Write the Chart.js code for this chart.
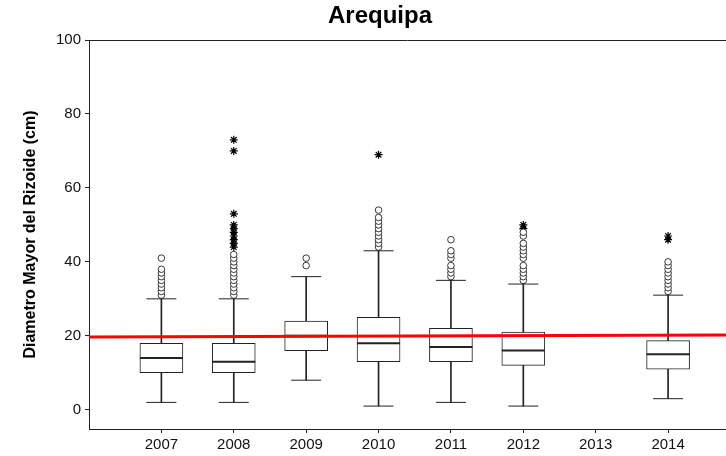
<!DOCTYPE html>
<html lang="es">
  <head>
    <meta charset="UTF-8" />
    <title>Arequipa</title>
    <script src="https://cdn.jsdelivr.net/npm/chart.js"></script>
    <style>
      body { margin: 0; background: #ffffff; }
      .chart-box { width: 726px; height: 456px; }
    </style>
  </head>
  <body>
    <div class="chart-box"><canvas id="chart"></canvas></div>

    <script>
      // one entry per year, 2013 has no samples
      const years = [2007, 2008, 2009, 2010, 2011, 2012, 2013, 2014];
      const whiskerLow = [2, 2, 8, 1, 2, 1, null, 3];
      const q1 = [10, 10, 16, 13, 13, 12, null, 11];
      const median = [14, 13, 20, 18, 17, 16, null, 15];
      const q3 = [18, 18, 24, 25, 22, 21, null, 18.7];
      const whiskerHigh = [30, 30, 36, 43, 35, 34, null, 31];

      const outlierCircles = [
        [31, 32, 33, 34, 35, 36, 37, 38, 41],
        [31, 32, 33, 34, 35, 36, 37, 38, 39, 40, 41, 42],
        [39, 41],
        [44, 45, 46, 47, 48, 49, 50, 51, 52, 54],
        [36, 37, 38, 39, 41, 42, 43, 46],
        [35, 36, 37, 38, 39, 41, 42, 43, 44, 45, 47, 48],
        [],
        [32, 33, 34, 35, 36, 37, 38, 39, 40]
      ];
      const outlierStars = [
        [],
        [44, 45, 46, 47, 48, 49, 50, 53, 70, 73],
        [],
        [69],
        [],
        [49, 50],
        [],
        [46, 47]
      ];

      const yTicks = [0, 20, 40, 60, 80, 100];
      const refLineX = [2006, 2014.8];
      const refLineY = [19.7, 20.2];

      const ink = "#222222";

      function ranges(lo, hi) {
        const out = [];
        years.forEach((yr, i) => {
          if (lo[i] !== null) out.push({ x: yr, y: [lo[i], hi[i]] });
        });
        return out;
      }

      function points(...lists) {
        const out = [];
        lists.forEach((list) => {
          years.forEach((yr, i) => {
            if (list[i] !== null) out.push({ x: yr, y: list[i] });
          });
        });
        return out;
      }

      function outlierPoints(lists) {
        const out = [];
        lists.forEach((vals, i) => {
          vals.forEach((v) => out.push({ x: years[i], y: v }));
        });
        return out;
      }

      // top border of the plot area
      const framePlugin = {
        id: "frame",
        afterDraw(chart) {
          const { ctx, chartArea } = chart;
          ctx.save();
          ctx.strokeStyle = ink;
          ctx.lineWidth = 1;
          ctx.beginPath();
          ctx.moveTo(chartArea.left, chartArea.top + 0.5);
          ctx.lineTo(chartArea.right, chartArea.top + 0.5);
          ctx.stroke();
          ctx.restore();
        },
      };

      Chart.defaults.font.family = "'Liberation Sans', Arial, sans-serif";
      Chart.defaults.color = "#111111";

      new Chart(document.getElementById("chart"), {
        type: "bar",
        data: {
          datasets: [
            {
              type: "line",
              data: refLineX.map((x, i) => ({ x: x, y: refLineY[i] })),
              borderColor: "#ff0000",
              borderWidth: 3,
              pointRadius: 0,
              order: 0,
            },
            {
              type: "scatter",
              data: points(median),
              pointStyle: "line",
              radius: 21.5,
              borderColor: ink,
              borderWidth: 2,
              order: 1,
            },
            {
              type: "scatter",
              data: points(whiskerLow, whiskerHigh),
              pointStyle: "line",
              radius: 15,
              borderColor: ink,
              borderWidth: 1,
              order: 1,
            },
            {
              type: "scatter",
              data: outlierPoints(outlierCircles),
              pointStyle: "circle",
              radius: 3.3,
              backgroundColor: "#ffffff",
              borderColor: ink,
              borderWidth: 0.9,
              order: 1,
            },
            {
              type: "scatter",
              data: outlierPoints(outlierStars),
              pointStyle: "star",
              radius: 4,
              borderColor: "#000000",
              borderWidth: 1.2,
              order: 1,
            },
            {
              data: ranges(q1, q3),
              barThickness: 43,
              backgroundColor: "#ffffff",
              borderColor: ink,
              borderWidth: 1,
              borderSkipped: false,
              grouped: false,
              order: 2,
            },
            {
              data: ranges(whiskerLow, whiskerHigh),
              barThickness: 1,
              backgroundColor: ink,
              borderWidth: 0,
              grouped: false,
              order: 3,
            },
          ],
        },
        options: {
          responsive: true,
          maintainAspectRatio: false,
          animation: false,
          layout: {
            autoPadding: false,
            padding: { left: 34, right: 0, top: 0, bottom: 0 },
          },
          plugins: {
            legend: { display: false },
            tooltip: { enabled: false },
            title: {
              display: true,
              text: "Arequipa",
              color: "#000000",
              font: { size: 24, weight: "bold" },
              padding: { top: 2, bottom: 9.2 },
            },
          },
          scales: {
            x: {
              type: "linear",
              min: 2006,
              max: 2014.8,
              offset: false,
              afterBuildTicks: (s) => {
                s.ticks = years.map((v) => ({ value: v }));
              },
              afterFit: (s) => {
                s.height = 27;
                s.paddingLeft = 0;
                s.paddingRight = 0;
              },
              ticks: {
                padding: 3,
                font: { size: 15 },
                callback: (v) => String(v),
              },
              grid: {
                offset: false,
                drawOnChartArea: false,
                tickLength: 4,
                color: ink,
              },
              border: { color: ink, width: 1 },
            },
            y: {
              min: -5.2,
              max: 100,
              afterBuildTicks: (s) => {
                s.ticks = yTicks.map((v) => ({ value: v }));
              },
              afterFit: (s) => {
                s.width = 55;
              },
              ticks: { padding: 4, font: { size: 15 } },
              grid: { drawOnChartArea: false, tickLength: 4, color: ink },
              border: { color: ink, width: 1 },
              title: {
                display: true,
                text: "Diametro Mayor del Rizoide (cm)",
                color: "#000000",
                font: { size: 16, weight: "bold" },
                padding: { top: -12.6, bottom: 0 },
              },
            },
          },
        },
        plugins: [framePlugin],
      });
    </script>
  </body>
</html>
